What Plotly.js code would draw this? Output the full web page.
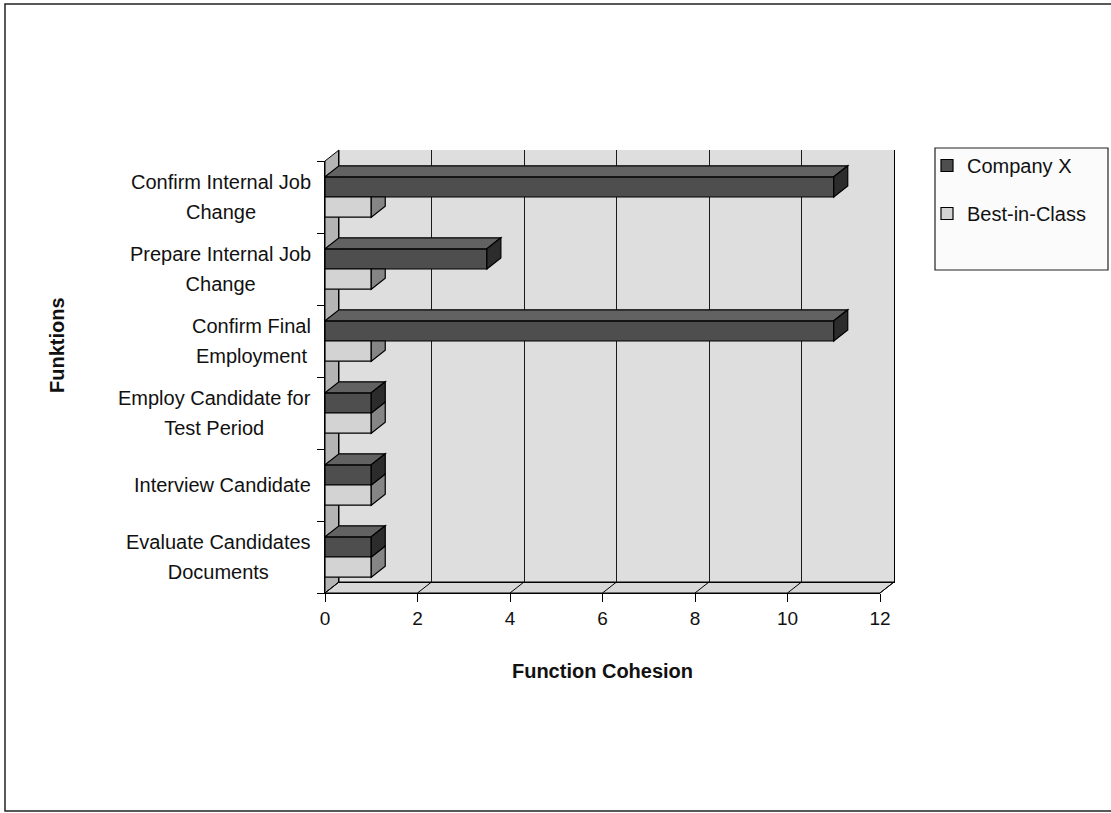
<!DOCTYPE html>
<html>
<head>
<meta charset="utf-8">
<script src="https://cdn.plot.ly/plotly-3.0.1.min.js"></script>
<style>
  html, body { margin: 0; padding: 0; background: #ffffff; }
  #chart { width: 1111px; height: 813px; }
</style>
</head>
<body>
<div id="chart"></div>
<script>
// Functions, listed from the bottom of the chart to the top
const categories = [
  'Evaluate Candidates<br>Documents',
  'Interview Candidate',
  'Employ Candidate for<br>Test Period',
  'Confirm Final<br>Employment',
  'Prepare Internal Job<br>Change',
  'Confirm Internal Job<br>Change'
];
const seriesNames = ['Company X', 'Best-in-Class'];
const companyX = [1, 1, 1, 11, 3.5, 11];
const bestInClass = [1, 1, 1, 1, 1, 1];
const xTicks = [0, 2, 4, 6, 8, 10, 12];

// Geometry of the pseudo-3D box (pixels)
const W = 1111, H = 813;
const M = { l: 325, r: 217, t: 150, b: 220 };
const DEPTH_X = 14, DEPTH_Y = 11;           // wall depth offset
const plotW = W - M.l - M.r, plotH = H - M.t - M.b;
const frontW = plotW - DEPTH_X, frontH = plotH - DEPTH_Y;
const XMAX = 12;
const BAR_W = 0.28;

const px = v => v / plotW;                  // pixel offset -> paper fraction (x)
const py = v => v / plotH;                  // pixel offset -> paper fraction (y)
const dxData = DEPTH_X * XMAX / frontW;     // depth in value units
const dyData = DEPTH_Y * (categories.length) / frontH; // depth in category units

const colors = {
  cxFront: '#4e4e4e', cxTop: '#626262', cxSide: '#2c2c2c',
  bcFront: '#d3d3d3', bcSide: '#858585',
  wall: '#dedede', leftWall: '#b4b4b4', floor: '#d8d8d8'
};

const idx = categories.map((_, i) => i);

const traces = [
  {
    type: 'bar', orientation: 'h', name: seriesNames[0],
    y: idx.map(i => categories[i]), x: companyX,
    xaxis: 'x2', yaxis: 'y2', width: BAR_W, offset: 0,
    marker: { color: colors.cxFront, line: { color: '#000', width: 1.2 } },
    legendgroup: 'a', hoverinfo: 'x+y'
  },
  {
    type: 'bar', orientation: 'h', name: seriesNames[1],
    y: idx.map(i => categories[i]), x: bestInClass,
    xaxis: 'x2', yaxis: 'y2', width: BAR_W, offset: -BAR_W,
    marker: { color: colors.bcFront, line: { color: '#000', width: 1.2 } },
    legendgroup: 'b', hoverinfo: 'x+y'
  },
  // empty trace that keeps the back-wall subplot (gridlines) alive
  {
    type: 'scatter', mode: 'markers', x: [], y: [],
    xaxis: 'x', yaxis: 'y', showlegend: false, hoverinfo: 'skip'
  }
];

const shapes = [];
const fx0 = 0, fx1 = px(frontW), fy0 = 0, fy1 = py(frontH);
const bx0 = px(DEPTH_X), by0 = py(DEPTH_Y);

// Back wall, left wall and floor
shapes.push({ type: 'rect', xref: 'paper', yref: 'paper', layer: 'below',
  x0: bx0, x1: 1, y0: by0, y1: 1, fillcolor: colors.wall, line: { width: 0 } });
shapes.push({ type: 'path', xref: 'paper', yref: 'paper', layer: 'below',
  path: `M${fx0},${fy0} L${bx0},${by0} L${bx0},1 L${fx0},${fy1} Z`,
  fillcolor: colors.leftWall, line: { color: '#000', width: 1 } });
shapes.push({ type: 'path', xref: 'paper', yref: 'paper', layer: 'below',
  path: `M${fx0},${fy0} L${fx1},${fy0} L1,${by0} L${bx0},${by0} Z`,
  fillcolor: colors.floor, line: { color: '#000', width: 1 } });
// Floor lines running from each front tick back to its gridline
xTicks.forEach(t => {
  const xf = fx0 + (t / XMAX) * (fx1 - fx0);
  shapes.push({ type: 'line', xref: 'paper', yref: 'paper', layer: 'below',
    x0: xf, y0: fy0, x1: xf + bx0, y1: by0, line: { color: '#000', width: 1 } });
});

// Side and top faces of the bars
const faceLine = { color: '#000', width: 1.2 };
idx.forEach(i => {
  // Best-in-Class: side face (top face is hidden behind Company X)
  const b = bestInClass[i], c = companyX[i];
  const b0 = i - BAR_W, b1 = i;
  let sidePath;
  if (c > b) {
    sidePath = `M${b},${b0} L${b + dxData},${b0 + dyData} L${b + dxData},${b1} L${b},${b1} Z`;
  } else {
    sidePath = `M${b},${b0} L${b + dxData},${b0 + dyData} L${b + dxData},${b1 + dyData} L${b},${b1} Z`;
  }
  shapes.push({ type: 'path', xref: 'x2', yref: 'y2', layer: 'above',
    path: sidePath, fillcolor: colors.bcSide, line: faceLine });

  // Company X: top face and side face
  const c0 = i, c1 = i + BAR_W;
  shapes.push({ type: 'path', xref: 'x2', yref: 'y2', layer: 'above',
    path: `M0,${c1} L${c},${c1} L${c + dxData},${c1 + dyData} L${dxData},${c1 + dyData} Z`,
    fillcolor: colors.cxTop, line: faceLine });
  shapes.push({ type: 'path', xref: 'x2', yref: 'y2', layer: 'above',
    path: `M${c},${c0} L${c + dxData},${c0 + dyData} L${c + dxData},${c1 + dyData} L${c},${c1} Z`,
    fillcolor: colors.cxSide, line: faceLine });
});

// Outer frame of the chart sheet
const fxp = v => (v - M.l) / plotW;
const fyp = v => (H - M.b - v) / plotH;
shapes.push({ type: 'path', xref: 'paper', yref: 'paper', layer: 'below',
  path: `M${fxp(1111)},${fyp(4)} L${fxp(5)},${fyp(4)} L${fxp(5)},${fyp(811)} L${fxp(1111)},${fyp(811)}`,
  line: { color: '#222', width: 1.5 } });
// Legend box
shapes.push({ type: 'rect', xref: 'paper', yref: 'paper', layer: 'below',
  x0: fxp(935), x1: fxp(1108), y0: fyp(270), y1: fyp(148),
  fillcolor: '#fbfbfb', line: { color: '#222', width: 1.2 } });

const labelFont = 'Liberation Sans, Arial, Helvetica, sans-serif';

// Category labels, lines centred on each other
const annotations = idx.map(i => ({
  xref: 'paper', yref: 'y2', x: 0, y: i, xanchor: 'right', yanchor: 'middle',
  xshift: -12, align: 'center', showarrow: false,
  text: categories[i].split('<br>').map(s => `<span style="font-size:20px">${s}</span>`).join('<br>'),
  font: { family: labelFont, size: 23, color: '#111' }
}));
annotations.push({
  xref: 'paper', yref: 'paper', x: fxp(57), y: fyp(345),
  xanchor: 'center', yanchor: 'middle', textangle: -90, showarrow: false,
  text: '<b>Funktions</b>', font: { family: labelFont, size: 20, color: '#111' }
});

const layout = {
  width: W, height: H,
  margin: M,
  paper_bgcolor: '#ffffff',
  plot_bgcolor: 'rgba(0,0,0,0)',
  barmode: 'overlay',
  showlegend: true,
  legend: {
    x: fxp(927), y: fyp(146), xanchor: 'left', yanchor: 'top',
    bgcolor: 'rgba(0,0,0,0)', borderwidth: 0,
    traceorder: 'grouped', tracegroupgap: 19,
    font: { family: labelFont, size: 20, color: '#111' }
  },
  // back wall axes: carry the gridlines
  xaxis: {
    domain: [bx0, 1], range: [0, XMAX], anchor: 'y',
    tickvals: xTicks, showticklabels: false, ticks: '',
    showgrid: true, gridcolor: '#1a1a1a', gridwidth: 1, zeroline: false,
    showline: true, linecolor: '#000', linewidth: 1, fixedrange: true
  },
  yaxis: {
    domain: [by0, 1], range: [0, 1], anchor: 'x',
    showticklabels: false, ticks: '', showgrid: false, zeroline: false,
    showline: true, mirror: true, linecolor: '#000', linewidth: 1, fixedrange: true
  },
  // front plane axes: carry bars, ticks and labels
  xaxis2: {
    domain: [0, fx1], range: [0, XMAX], anchor: 'y2',
    tickvals: xTicks, ticks: 'outside', ticklen: 8, tickcolor: '#000', tickwidth: 1,
    showgrid: false, zeroline: false, showline: true, linecolor: '#000', linewidth: 1.2,
    tickfont: { family: labelFont, size: 19, color: '#111' },
    title: { text: '<b>Function Cohesion</b>', standoff: 36,
      font: { family: labelFont, size: 20, color: '#111' } },
    fixedrange: true
  },
  yaxis2: {
    domain: [0, fy1], anchor: 'x2', type: 'category',
    categoryorder: 'array', categoryarray: categories,
    range: [-0.5, categories.length - 0.5],
    tickson: 'boundaries', ticks: 'outside', ticklen: 7, tickcolor: '#000',
    showticklabels: false, showgrid: false, zeroline: false,
    showline: true, linecolor: '#000', linewidth: 1, fixedrange: true
  },
  shapes: shapes,
  annotations: annotations
};

Plotly.newPlot('chart', traces, layout, { displayModeBar: false, staticPlot: true });
</script>
</body>
</html>
